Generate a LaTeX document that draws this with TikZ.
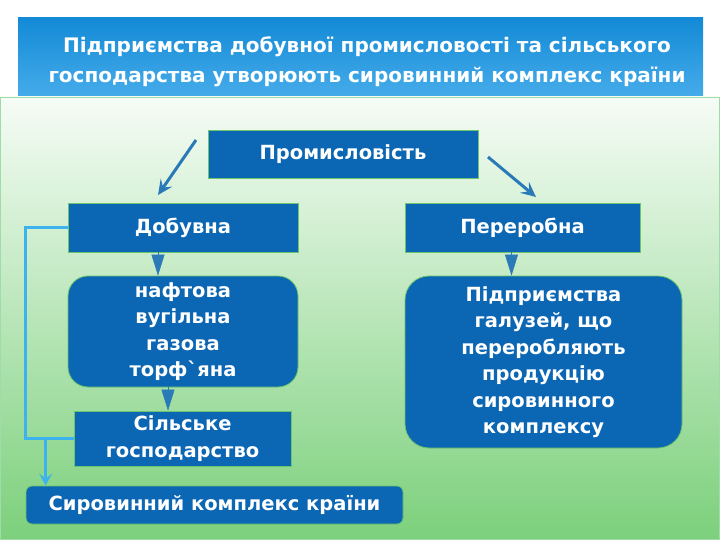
\documentclass[tikz,border=0pt]{standalone}
\usepackage{fontspec}
\setmainfont{DejaVu Sans}[Ligatures=TeXOff]
\usetikzlibrary{positioning,calc,arrows.meta}
\definecolor{boxblue}{HTML}{0B66B3}
\definecolor{arrblue}{HTML}{2A7AB8}
\definecolor{linkblue}{HTML}{3DB3EE}
\definecolor{edgegreen}{HTML}{6CC46C}
\tikzset{
  box/.style={draw=edgegreen, line width=0.8pt, fill=boxblue, text=white, font=\bfseries\fontsize{19.5}{26.5}\selectfont, align=center, inner sep=0pt},
  rbox/.style={box, rounded corners=20pt},
  tri/.style={draw=arrblue, fill=arrblue, line width=0.5pt, -{Triangle[width=13pt,length=21pt]}},
  branch/.style={draw=arrblue, line width=3pt, -{Stealth[length=15pt,width=14pt,inset=6pt]}},
  link/.style={draw=linkblue, line width=3pt}
}
\begin{document}
\begin{tikzpicture}[x=1pt, y=-1pt]
        \useasboundingbox (0,0) rectangle (720,540);
        % Title band and panel
        \shade[top color={rgb,255:red,19;green,138;blue,214}, bottom color={rgb,255:red,70;green,172;blue,234}] (18,18) rectangle (703,97);
        \shade[top color={rgb,255:red,246;green,252;blue,246}, bottom color={rgb,255:red,124;green,208;blue,124}, draw={rgb,255:red,160;green,220;blue,170}] (0.5,97) rectangle (719.5,539.5);
        \node[text=white, font=\bfseries\fontsize{20}{30}\selectfont, align=center] (title) at (367,62) {Підприємства добувної промисловості та сільського\\господарства утворюють сировинний комплекс країни};

        % Boxes
        \node[box, minimum width=270pt, minimum height=48pt] (prom) at (343,154) {Промисловість};
        \node[box, minimum width=230pt, minimum height=49pt] (dob) at (183,227.5) {Добувна};
        \node[box, minimum width=235pt, minimum height=49pt] (per) at (522.5,227.5) {Переробна};
        \node[rbox, minimum width=230pt, minimum height=111pt] (naft) at (183,331.5) {нафтова\\вугільна\\газова\\торф`яна};
        \node[rbox, rounded corners=24pt, minimum width=277pt, minimum height=172pt] (pid) at (543.5,362) {Підприємства\\галузей, що\\переробляють\\продукцію\\сировинного\\комплексу};
        \node[box, minimum width=217pt, minimum height=55pt] (sil) at (182.5,438.5) {Сільське\\господарство};
        \node[box, rounded corners=6pt, minimum width=377pt, minimum height=38pt] (syr) at (214.5,505) {Сировинний комплекс країни};

        % Branch arrows
        \coordinate (bl1) at (196,140); \coordinate (bl2) at (158,195);
        \coordinate (br1) at (488,157); \coordinate (br2) at (536,197);
        \draw[branch] (bl1) -- (bl2);
        \draw[branch] (br1) -- (br2);

        % Small arrows
        \draw[tri] ([xshift=-25pt]dob.south) -- ([xshift=-25pt]dob.south |- naft.north);
        \draw[tri] ([xshift=-15pt]naft.south) -- ([xshift=-15pt]naft.south |- sil.north);
        \draw[tri] ([xshift=-11pt]per.south) -- ([xshift=-11pt]per.south |- pid.north);

        % Link to the complex
        \draw[link] (dob.west) -- ++(-42,0) |- (sil.west);
        \draw[link, -{Stealth[length=12pt,width=13pt,inset=5pt]}] ([xshift=20pt]syr.north west |- sil.west) -- ([xshift=20pt]syr.north west);
    \end{tikzpicture}
\end{document}
